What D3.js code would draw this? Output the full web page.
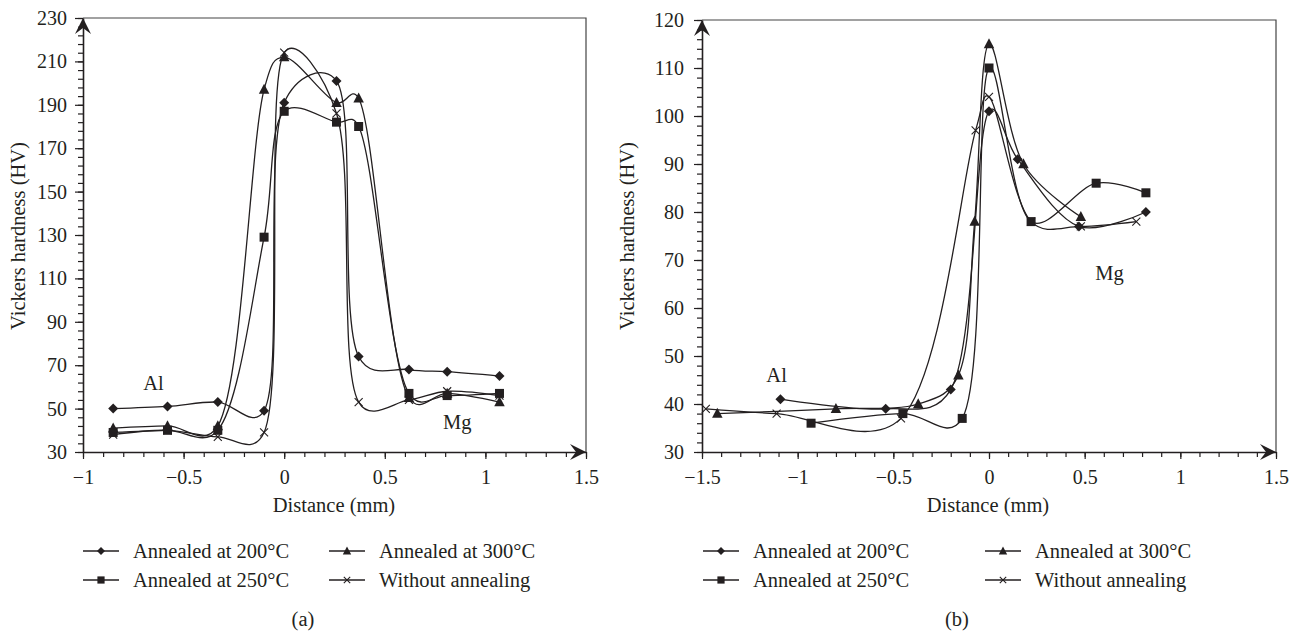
<!DOCTYPE html>
<html>
<head>
<meta charset="utf-8">
<script src="https://cdn.jsdelivr.net/npm/d3@7"></script>
<style>
  body { margin: 0; background: #fff; }
  text { font-family: "Liberation Serif", "DejaVu Serif", serif; fill: #231f20; }
</style>
</head>
<body>
<div id="chart"></div>
<script>
var svgWidth = 1301;
var svgHeight = 635;

// panel (a)
var distA = [-0.85, -0.58, -0.33, -0.1, 0, 0.26, 0.37, 0.62, 0.81, 1.07];
var hvA200 = [50, 51, 53, 49, 191, 201, 74, 68, 67, 65];
var hvA250 = [39, 40, 40, 129, 187, 182, 180, 57, 56, 57];
var hvA300 = [41, 42, 42, 197, 212, 191, 193, 55, 57, 53];
var hvA0 = [38, 40, 37, 39, 214, 186, 53, 54, 58, 56];

// panel (b)
var distB200 = [-1.09, -0.54, -0.2, 0, 0.15, 0.47, 0.82];
var hvB200 = [41, 39, 43, 101, 91, 77, 80];
var distB250 = [-0.93, -0.45, -0.14, 0, 0.22, 0.56, 0.82];
var hvB250 = [36, 38, 37, 110, 78, 86, 84];
var distB300 = [-1.42, -0.8, -0.37, -0.16, -0.075, 0, 0.18, 0.48];
var hvB300 = [38, 39, 40, 46, 78, 115, 90, 79];
var distB0 = [-1.48, -1.11, -0.46, -0.07, 0, 0.22, 0.48, 0.77];
var hvB0 = [39, 38, 37, 97, 104, 78, 77, 78];

var seriesNames = ["Annealed at 200°C", "Annealed at 250°C", "Annealed at 300°C", "Without annealing"];
var markers = ["diamond", "square", "triangle", "cross"];

var ink = "#231f20";
var fontSize = "20.5px";

var svg = d3.select("#chart")
    .append("svg")
    .attr("width", svgWidth)
    .attr("height", svgHeight);

function zip(xs, ys) {
    return xs.map((x, i) => ({ x: x, y: ys[i] }));
}

function drawMarker(g, type, s) {
    if (type == "diamond") {
        g.append("path").attr("d", `M0,${-s}L${s},0L0,${s}L${-s},0Z`).attr("fill", ink);
    } else if (type == "square") {
        g.append("rect").attr("x", -s * 0.9).attr("y", -s * 0.9)
            .attr("width", s * 1.8).attr("height", s * 1.8).attr("fill", ink);
    } else if (type == "triangle") {
        g.append("path").attr("d", `M0,${-s * 1.15}L${s * 1.05},${s * 0.85}L${-s * 1.05},${s * 0.85}Z`).attr("fill", ink);
    } else {
        var c = s * 0.8;
        g.append("path").attr("d", `M${-c},${-c}L${c},${c}M${-c},${c}L${c},${-c}`)
            .attr("stroke", ink).attr("stroke-width", 1.1).attr("fill", "none");
    }
}

function renderPanel(p) {
    var x = d3.scaleLinear().domain(p.xDomain).range([p.left, p.right]);
    var y = d3.scaleLinear().domain(p.yDomain).range([452, p.top]);

    var g = svg.append("g");

    // frame: top and right
    g.append("path")
        .attr("d", `M${p.left},${p.top}H${p.right}V452`)
        .attr("fill", "none")
        .attr("stroke", "#444")
        .attr("stroke-width", 1.2);

    // minor ticks
    g.append("g")
        .attr("transform", `translate(${p.left},0)`)
        .call(d3.axisLeft(y).tickValues(d3.range(p.yDomain[0], p.yDomain[1] + 0.01, p.yMinor)).tickSize(5).tickFormat(""))
        .call(a => a.select(".domain").remove());
    g.append("g")
        .attr("transform", `translate(0,452)`)
        .call(d3.axisBottom(x).tickValues(d3.range(p.xDomain[0], p.xDomain[1] + 0.001, 0.1)).tickSize(5).tickFormat(""))
        .call(a => a.select(".domain").remove());

    // major ticks + labels
    g.append("g")
        .attr("transform", `translate(${p.left},0)`)
        .call(d3.axisLeft(y).tickValues(d3.range(p.yDomain[0], p.yDomain[1] + 0.01, p.yMajor)).tickSize(8).tickPadding(p.yPad).tickSizeOuter(0));
    g.append("g")
        .attr("transform", `translate(0,452)`)
        .call(d3.axisBottom(x).tickValues(d3.range(p.xDomain[0], p.xDomain[1] + 0.001, 0.5)).tickSize(7).tickPadding(11).tickSizeOuter(0)
            .tickFormat(d => d3.format("")(Math.round(d * 10) / 10)));

    g.selectAll(".tick line").attr("stroke", ink).attr("stroke-width", 1.2);
    g.selectAll(".domain").attr("stroke", ink).attr("stroke-width", 1.6);
    g.selectAll(".tick text")
        .style("font-family", '"Liberation Serif", serif')
        .style("font-size", "20px")
        .attr("fill", ink);

    // arrows
    g.append("path")
        .attr("d", `M${p.left},${p.top}L${p.left + 8},${p.top + 16}L${p.left},${p.top + 10}L${p.left - 8},${p.top + 16}Z`)
        .attr("fill", ink);
    g.append("path")
        .attr("d", `M${p.right},452L${p.right - 16},${452 - 8}L${p.right - 10},452L${p.right - 16},${452 + 8}Z`)
        .attr("fill", ink);

    // axis titles
    g.append("text")
        .attr("transform", `translate(${p.yTitleX},236) rotate(-90)`)
        .attr("text-anchor", "middle")
        .attr("dominant-baseline", "central")
        .style("font-size", fontSize)
        .text("Vickers hardness (HV)");
    g.append("text")
        .attr("x", p.distX)
        .attr("y", 505)
        .attr("text-anchor", "middle")
        .attr("dominant-baseline", "central")
        .style("font-size", fontSize)
        .text("Distance (mm)");

    // series, smoothed
    var line = d3.line()
        .x(d => x(d.x))
        .y(d => y(d.y))
        .curve(d3.curveCatmullRom.alpha(0.3));

    p.series.forEach(function (s) {
        g.append("path")
            .datum(s)
            .attr("d", line)
            .attr("fill", "none")
            .attr("stroke", ink)
            .attr("stroke-width", 1.3);
    });
    p.series.forEach(function (s, i) {
        s.forEach(function (d) {
            var m = g.append("g").attr("transform", `translate(${x(d.x)},${y(d.y)})`);
            drawMarker(m, markers[i], 5);
        });
    });

    // region labels
    p.notes.forEach(function (n) {
        g.append("text")
            .attr("x", x(n.x))
            .attr("y", y(n.y))
            .attr("text-anchor", "middle")
            .attr("dominant-baseline", "central")
            .style("font-size", fontSize)
            .text(n.t);
    });

    // legend
    var cols = [p.legendX, p.legendX + p.legendGap];
    var rows = [551, 580];
    var order = [[0, 0, 0], [1, 0, 1], [2, 1, 0], [3, 1, 1]];
    order.forEach(function (o) {
        var lx = cols[o[1]];
        var ly = rows[o[2]];
        var lg = g.append("g");
        lg.append("line")
            .attr("x1", lx).attr("x2", lx + 36)
            .attr("y1", ly).attr("y2", ly)
            .attr("stroke", ink).attr("stroke-width", 1.3);
        var m = lg.append("g").attr("transform", `translate(${lx + 18},${ly})`);
        drawMarker(m, markers[o[0]], 4);
        lg.append("text")
            .attr("x", lx + 50)
            .attr("y", ly)
            .attr("dominant-baseline", "central")
            .style("font-size", fontSize)
            .text(seriesNames[o[0]]);
    });

    g.append("text")
        .attr("x", p.capX)
        .attr("y", 619)
        .attr("text-anchor", "middle")
        .attr("dominant-baseline", "central")
        .style("font-size", fontSize)
        .text(p.caption);
}

renderPanel({
    left: 83, right: 586, top: 18,
    xDomain: [-1, 1.5], yDomain: [30, 230],
    yMajor: 20, yMinor: 4, yPad: 8,
    yTitleX: 18, distX: 334,
    series: [zip(distA, hvA200), zip(distA, hvA250), zip(distA, hvA300), zip(distA, hvA0)],
    notes: [{ x: -0.65, y: 62, t: "Al" }, { x: 0.86, y: 44, t: "Mg" }],
    legendX: 83, legendGap: 246,
    capX: 303, caption: "(a)"
});

renderPanel({
    left: 702, right: 1276, top: 20,
    xDomain: [-1.5, 1.5], yDomain: [30, 120],
    yMajor: 10, yMinor: 2, yPad: 10,
    yTitleX: 627, distX: 988,
    series: [zip(distB200, hvB200), zip(distB250, hvB250), zip(distB300, hvB300), zip(distB0, hvB0)],
    notes: [{ x: -1.11, y: 46, t: "Al" }, { x: 0.63, y: 67.3, t: "Mg" }],
    legendX: 703, legendGap: 282,
    capX: 957, caption: "(b)"
});
</script>
</body>
</html>
